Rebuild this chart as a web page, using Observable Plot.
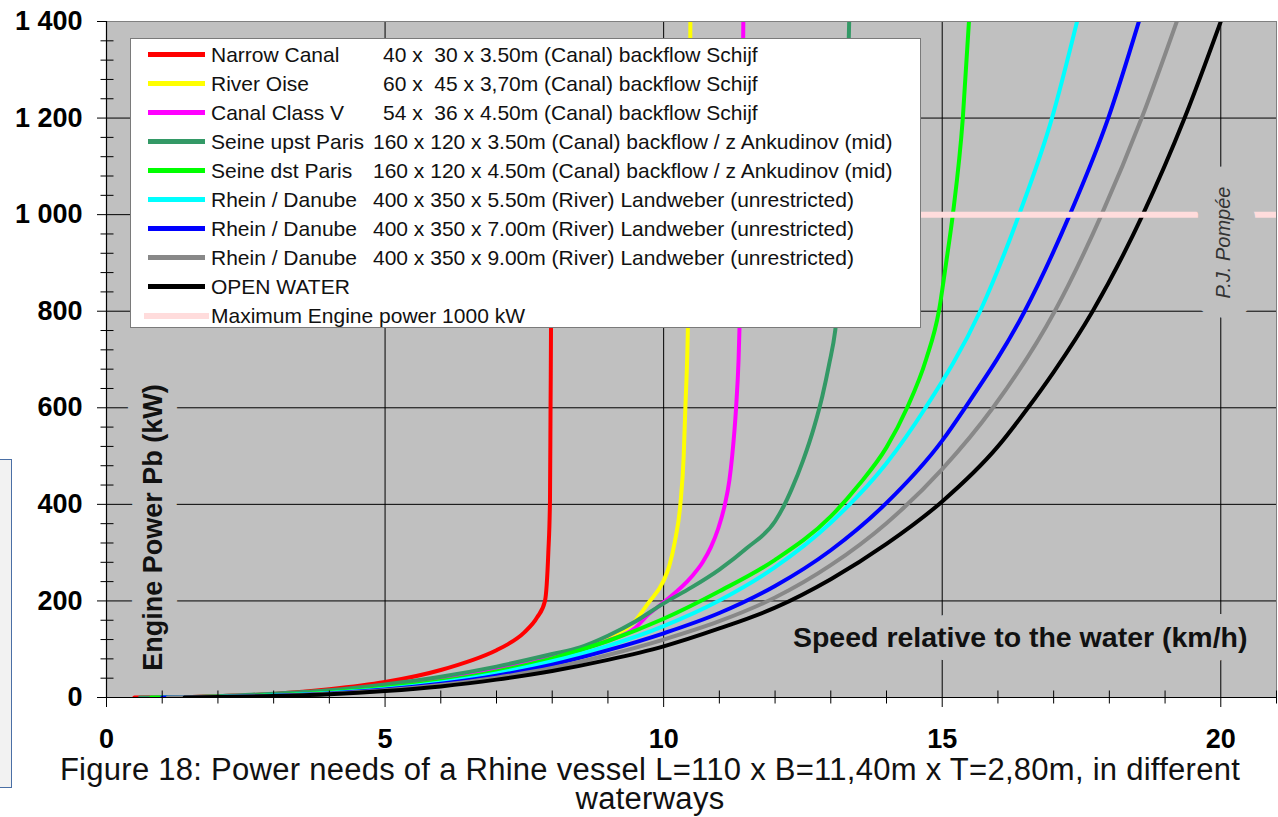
<!DOCTYPE html>
<html>
<head>
<meta charset="utf-8">
<script src="https://cdn.jsdelivr.net/npm/d3@7"></script>
<script src="https://cdn.jsdelivr.net/npm/@observablehq/plot@0.6"></script>
<style>
  body { margin: 0; background: #fff; font-family: "Liberation Sans", Arial, sans-serif; }
  #wrap { position: relative; width: 1278px; height: 817px; overflow: hidden; background: #fff; }
  #chart svg { display: block; }
  #legend { position: absolute; left: 130px; top: 38px; width: 791px; height: 290px;
            border: 1px solid #7a7a7a; background: #fff; box-sizing: border-box; }
  #legend .row { position: absolute; left: 0; width: 100%; height: 29px; line-height: 29px;
                 font-size: 21px; color: #111; white-space: pre; }
  #legend .sample { position: absolute; left: 17px; width: 57px; height: 5px; top: 12px; }
  #legend .name { position: absolute; left: 80px; top: 0; }
  #legend .spec { position: absolute; top: 0; }
  .cap { position: absolute; left: 0; width: 1278px; height: 29px; box-sizing: border-box;
         padding-left: 22px; text-align: center; font-size: 31px; line-height: 29px;
         letter-spacing: 0.27px; color: #111; white-space: nowrap; }
  #sidebox { position: absolute; left: -10px; top: 459px; width: 22px; height: 329px;
             border: 1.5px solid #4a6fa5; background: #f2f2f2; box-sizing: border-box; }
</style>
</head>
<body>
<div id="wrap">
  <div id="chart"></div>
  <div id="legend"></div>
  <div id="sidebox"></div>
  <div class="cap" style="top:755px">Figure 18: Power needs of a Rhine vessel L=110 x B=11,40m x T=2,80m, in different</div>
  <div class="cap" style="top:784px">waterways</div>
</div>
<script>
// ---- data: [speed km/h, engine power kW] ----
const narrowCanal = [[0.5,0],[1,0.3],[2,2.5],[3,7.5],[4,17],[5,32],[6,57],[7,98],[7.2,110],[7.5,135],[7.73,166],[7.87,200],[7.93,300],[7.96,408],[7.97,600],[7.98,800],[7.99,1300]];
const riverOise = [[0.8,0],[1,0.3],[2,2.3],[3,6.5],[4,13],[5,24],[6,39],[7,60],[8,87],[9,122],[9.5,160],[9.72,195],[10,242],[10.1,272],[10.2,322],[10.3,400],[10.36,500],[10.39,600],[10.44,800],[10.46,1000],[10.48,1400]];
const canalClassV = [[0.8,0],[1,0.3],[2,2.3],[3,6.5],[4,13],[5,24],[6,39],[7,59],[8,85],[9,118],[9.5,145],[9.7,169],[10,197],[10.5,250],[10.7,280],[10.85,312],[10.98,350],[11.1,400],[11.18,450],[11.23,500],[11.3,600],[11.345,700],[11.37,800],[11.4,1000],[11.43,1400]];
const seineUpst = [[0.6,0],[1,0.4],[2,2.8],[3,8],[4,15],[5,27],[6,43],[7,64],[8,90],[8.5,104],[9,128],[9.5,158],[10,195],[10.5,228],[11,265],[11.5,310],[12,365],[12.15,395],[12.3,432],[12.5,490],[12.7,560],[12.85,625],[12.97,690],[13.08,760],[13.18,880],[13.26,1050],[13.33,1400]];
const seineDst = [[0.8,0],[1,0.2],[2,1.4],[3,4.5],[4,10.5],[5,20],[6,34],[7,54],[8,81],[9,117],[10,163],[11,220],[12,285],[13,375],[13.5,440],[14,518],[14.37,600],[14.71,700],[14.94,800],[15.07,900],[15.19,1000],[15.37,1200],[15.48,1400]];
const rhein550 = [[1,0],[2,1.2],[3,4],[4,9.3],[5,18],[6,31],[7,50],[8,75],[9,107],[10,148],[11,201],[12,270],[13,362],[14,485],[14.7,600],[15.68,800],[16.38,1000],[16.97,1200],[17.42,1400]];
const rhein700 = [[1,0],[2,1.1],[3,3.6],[4,8.5],[5,16.5],[6,28.5],[7,45],[8,68],[9,98],[10,133],[11,175],[12,231],[13,305],[14,403],[15,532],[15.41,600],[16.48,800],[17.29,1000],[17.98,1200],[18.53,1400]];
const rhein900 = [[1.1,0],[2,1],[3,3.3],[4,7.8],[5,15],[6,26],[7,41],[8,61],[9,88],[10,120],[11,158],[12,207],[13,274],[14,361],[15,473],[15.91,600],[17.02,800],[17.86,1000],[18.58,1200],[19.21,1400]];
const openWater = [[1.4,0],[2,0.9],[3,2.9],[4,6.9],[5,13.5],[6,23],[7,37],[8,55],[9,78],[10,106],[11,143],[12,186],[13,245],[14,318],[15,406],[16,520],[16.54,600],[17,674],[17.7,800],[18.6,1000],[19.35,1200],[20,1400]];
const maxEnginePower = 1000;
const maxPowerSpeedRange = [3, 21];

const seriesNames = ["Narrow Canal","River Oise","Canal Class V","Seine upst Paris","Seine dst Paris","Rhein / Danube","Rhein / Danube","Rhein / Danube","OPEN WATER","Maximum Engine power 1000 kW"];
const seriesSpecs = ["40 x  30 x 3.50m (Canal) backflow Schijf","60 x  45 x 3,70m (Canal) backflow Schijf","54 x  36 x 4.50m (Canal) backflow Schijf","160 x 120 x 3.50m (Canal) backflow / z Ankudinov (mid)","160 x 120 x 4.50m (Canal) backflow / z Ankudinov (mid)","400 x 350 x 5.50m (River) Landweber (unrestricted)","400 x 350 x 7.00m (River) Landweber (unrestricted)","400 x 350 x 9.00m (River) Landweber (unrestricted)","",""];
const seriesColors = ["#ff0000","#ffff00","#ff00ff","#339966","#00ff00","#00ffff","#0000ff","#888888","#000000","#ffdcdc"];
const seriesData = [narrowCanal, riverOise, canalClassV, seineUpst, seineDst, rhein550, rhein700, rhein900, openWater];

const xMajor = [0, 5, 10, 15, 20];
const xMinor = [1,2,3,4,6,7,8,9,11,12,13,14,16,17,18,19,21];
const yMajor = [0, 200, 400, 600, 800, 1000, 1200, 1400];
const yMinor = [40,80,120,160,240,280,320,360,440,480,520,560,640,680,720,760,840,880,920,960,1040,1080,1120,1160,1240,1280,1320,1360];

const xLabel = "Speed relative to the water (km/h)";
const yLabel = "Engine Power Pb (kW)";
const credit = "P.J. Pompée";

// ---- build ----
const rows = [];
seriesData.forEach((pts, i) => pts.forEach(([v, p]) => rows.push({series: i, speed: v, power: p})));

const locale = d3.formatLocale({decimal: ".", thousands: " ", grouping: [3], currency: ["", ""]});
const fmt = locale.format(",");

const tickV = {draw(ctx) { ctx.moveTo(0, -7); ctx.lineTo(0, 6); }};
const tickH = {draw(ctx) { ctx.moveTo(-6, 0); ctx.lineTo(7, 0); }};
const bg = "#c0c0c0";

const yLab = {frameAnchor: "left", dx: 46.5, dy: 168, rotate: -90, textAnchor: "middle", fontSize: 27, fontWeight: "bold"};
const xLab = {frameAnchor: "bottom-right", dx: -29, dy: -51, textAnchor: "end", fontSize: 28.5, fontWeight: "bold"};
const cLab = {frameAnchor: "top-right", dx: -61, dy: 221, rotate: -90, textAnchor: "middle", fontSize: 20, fontStyle: "italic"};

const chart = Plot.plot({
  width: 1278,
  height: 756,
  marginTop: 21,
  marginBottom: 59,
  marginLeft: 106,
  marginRight: 2,
  style: {fontFamily: '"Liberation Sans", Arial, sans-serif', background: "transparent", color: "black"},
  x: {domain: [0, 21]},
  y: {domain: [0, 1400]},
  marks: [
    Plot.frame({fill: bg, stroke: null}),
    Plot.ruleX(xMajor.filter(d => d > 0), {stroke: "#000", strokeWidth: 1}),
    Plot.ruleY(yMajor.filter(d => d > 0), {stroke: "#000", strokeWidth: 1}),
    // label background boxes (interrupt the grid)
    Plot.text([yLabel], {...yLab, fill: bg, stroke: bg, strokeWidth: 30, strokeLinejoin: "round"}),
    Plot.text([xLabel], {...xLab, fill: bg, stroke: bg, strokeWidth: 26, strokeLinejoin: "round"}),
    // curves
    Plot.line(rows, {x: "speed", y: "power", z: "series", stroke: d => seriesColors[d.series],
      strokeWidth: 4, curve: "monotone-x", strokeLinejoin: "round", clip: true}),
    Plot.ruleY([maxEnginePower], {x1: maxPowerSpeedRange[0], x2: maxPowerSpeedRange[1], stroke: seriesColors[9], strokeWidth: 6}),
    Plot.text([credit], {...cLab, fill: bg, stroke: bg, strokeWidth: 42, strokeLinejoin: "round"}),
    Plot.frame({stroke: "#808080", strokeWidth: 1}),
    Plot.ruleX([0], {stroke: "#000", strokeWidth: 1.2}),
    Plot.ruleY([0], {stroke: "#000", strokeWidth: 1.2}),
    Plot.dot(xMinor, {x: d => d, y: 0, symbol: tickV, fill: "none", stroke: "#000", strokeWidth: 1, r: 4}),
    Plot.dot(yMinor, {x: 0, y: d => d, symbol: tickH, fill: "none", stroke: "#000", strokeWidth: 1, r: 4}),
    Plot.axisX({ticks: xMajor, tickSize: 10, tickPadding: 21, fontSize: 27, fontWeight: "bold", label: null, tickFormat: d => String(d)}),
    Plot.axisY({ticks: yMajor, tickSize: 9, tickPadding: 15, fontSize: 27, fontWeight: "bold", label: null, tickFormat: fmt}),
    Plot.text([yLabel], {...yLab, fill: "#111"}),
    Plot.text([xLabel], {...xLab, fill: "#111"}),
    Plot.text([credit], {...cLab, fill: "#333"})
  ]
});
document.getElementById("chart").appendChild(chart);

// ---- legend (inside the plot area, as in the original) ----
const legend = d3.select("#legend");
seriesNames.forEach((name, i) => {
  const row = legend.append("div").attr("class", "row").style("top", (1 + 29 * i) + "px");
  const s = row.append("div").attr("class", "sample").style("background", seriesColors[i]);
  if (i === 9) s.style("left", "13px").style("width", "65px").style("height", "6px");
  row.append("span").attr("class", "name").text(name);
  row.append("span").attr("class", "spec").style("left", (i < 3 ? 252 : 242) + "px").text(seriesSpecs[i]);
});
</script>
</body>
</html>
